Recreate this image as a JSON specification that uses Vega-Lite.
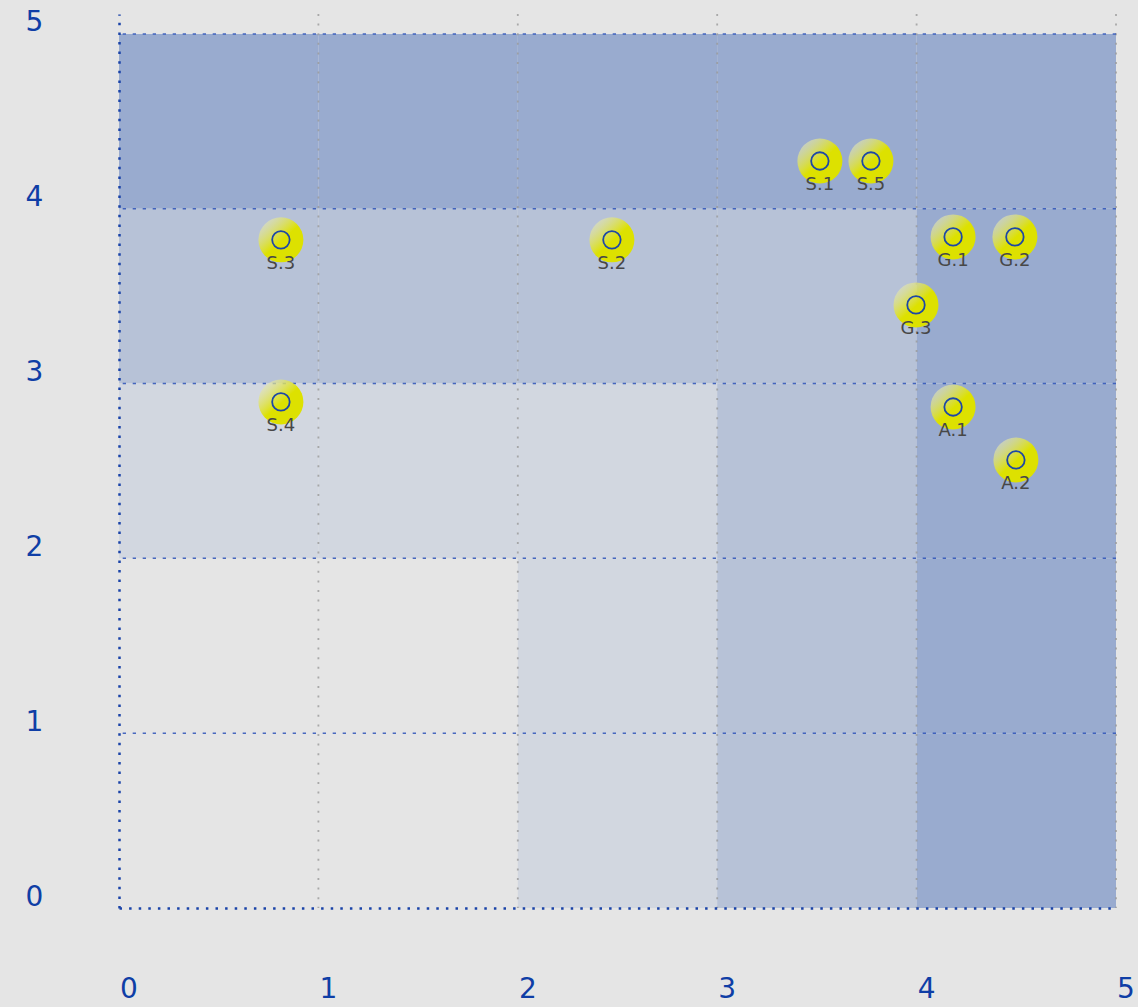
{
  "$schema": "https://vega.github.io/schema/vega-lite/v6.json",
  "width": 997,
  "height": 894,
  "autosize": {"type": "none"},
  "padding": {"left": 119, "top": 14, "right": 22, "bottom": 99},
  "background": "#e5e5e5",
  "config": {
    "view": {"stroke": null},
    "font": "DejaVu Sans"
  },
  "datasets": {
    "cells": [
      {"x0": 0, "x1": 1, "y0": 4, "y1": 5, "level": 4},
      {"x0": 1, "x1": 2, "y0": 4, "y1": 5, "level": 4},
      {"x0": 2, "x1": 3, "y0": 4, "y1": 5, "level": 4},
      {"x0": 3, "x1": 4, "y0": 4, "y1": 5, "level": 4},
      {"x0": 4, "x1": 5, "y0": 4, "y1": 5, "level": 4},
      {"x0": 0, "x1": 1, "y0": 3, "y1": 4, "level": 3},
      {"x0": 1, "x1": 2, "y0": 3, "y1": 4, "level": 3},
      {"x0": 2, "x1": 3, "y0": 3, "y1": 4, "level": 3},
      {"x0": 3, "x1": 4, "y0": 3, "y1": 4, "level": 3},
      {"x0": 4, "x1": 5, "y0": 3, "y1": 4, "level": 4},
      {"x0": 0, "x1": 1, "y0": 2, "y1": 3, "level": 2},
      {"x0": 1, "x1": 2, "y0": 2, "y1": 3, "level": 2},
      {"x0": 2, "x1": 3, "y0": 2, "y1": 3, "level": 2},
      {"x0": 3, "x1": 4, "y0": 2, "y1": 3, "level": 3},
      {"x0": 4, "x1": 5, "y0": 2, "y1": 3, "level": 4},
      {"x0": 2, "x1": 3, "y0": 1, "y1": 2, "level": 2},
      {"x0": 3, "x1": 4, "y0": 1, "y1": 2, "level": 3},
      {"x0": 4, "x1": 5, "y0": 1, "y1": 2, "level": 4},
      {"x0": 2, "x1": 3, "y0": 0, "y1": 1, "level": 2},
      {"x0": 3, "x1": 4, "y0": 0, "y1": 1, "level": 3},
      {"x0": 4, "x1": 5, "y0": 0, "y1": 1, "level": 4}
    ],
    "hlines": [{"v": 1}, {"v": 2}, {"v": 3}, {"v": 4}, {"v": 5}],
    "vlines": [{"v": 1}, {"v": 2}, {"v": 3}, {"v": 4}, {"v": 5}],
    "points": [
      {"x": 3.515, "y": 4.273, "label": "S.1"},
      {"x": 3.771, "y": 4.273, "label": "S.5"},
      {"x": 0.812, "y": 3.822, "label": "S.3"},
      {"x": 2.472, "y": 3.822, "label": "S.2"},
      {"x": 4.183, "y": 3.839, "label": "G.1"},
      {"x": 4.493, "y": 3.839, "label": "G.2"},
      {"x": 3.997, "y": 3.45, "label": "G.3"},
      {"x": 0.812, "y": 2.895, "label": "S.4"},
      {"x": 4.183, "y": 2.866, "label": "A.1"},
      {"x": 4.498, "y": 2.563, "label": "A.2"}
    ]
  },
  "layer": [
    {
      "data": {"name": "cells"},
      "mark": {"type": "rect", "strokeWidth": 0},
      "encoding": {
        "x": {
          "field": "x0", "type": "quantitative",
          "scale": {"domain": [0, 5], "nice": false, "zero": false},
          "axis": {
            "values": [0, 1, 2, 3, 4, 5], "format": "d",
            "ticks": false, "tickSize": 0, "grid": false,
            "domainColor": "#1a43a8", "domainWidth": 2.5, "domainDash": [2.5, 7.1],
            "labelFont": "DejaVu Sans", "labelFontSize": 28, "labelColor": "#0f3ea6",
            "labelBaseline": "top", "labelPadding": 67, "labelOffset": 9.5,
            "labelFlush": false, "labelOverlap": false,
            "title": null, "zindex": 1
          }
        },
        "x2": {"field": "x1"},
        "y": {
          "field": "y0", "type": "quantitative",
          "scale": {"domain": [0, 5.114], "nice": false, "zero": false},
          "axis": {
            "values": [0, 1, 2, 3, 4, 5], "format": "d",
            "ticks": false, "tickSize": 0, "grid": false,
            "domainColor": "#1a43a8", "domainWidth": 2.5, "domainDash": [2.5, 7.1],
            "labelFont": "DejaVu Sans", "labelFontSize": 28, "labelColor": "#0f3ea6",
            "labelAlign": "left", "labelBaseline": "middle", "labelPadding": 94, "labelOffset": -11,
            "labelFlush": false, "labelOverlap": false,
            "title": null, "zindex": 1
          }
        },
        "y2": {"field": "y1"},
        "color": {
          "field": "level", "type": "ordinal",
          "scale": {"domain": [2, 3, 4], "range": ["#d2d7e0", "#b7c2d7", "#99abcf"]},
          "legend": null
        }
      }
    },
    {
      "data": {"name": "vlines"},
      "mark": {"type": "rule", "color": "#9a9a9a", "strokeWidth": 1.8, "strokeDash": [2, 7.6], "opacity": 0.8},
      "encoding": {"x": {"field": "v", "type": "quantitative"}}
    },
    {
      "data": {"name": "hlines"},
      "mark": {"type": "rule", "color": "#2d52b8", "strokeWidth": 1.5, "strokeDash": [3.3, 6.7], "opacity": 0.85},
      "encoding": {"y": {"field": "v", "type": "quantitative"}}
    },
    {
      "data": {"name": "points"},
      "mark": {
        "type": "point", "shape": "circle", "filled": true, "size": 2025, "opacity": 1, "strokeWidth": 0,
        "color": {
          "gradient": "linear", "x1": 0.1, "y1": 0.05, "x2": 0.85, "y2": 0.9,
          "stops": [
            {"offset": 0, "color": "rgba(228,230,210,0.55)"},
            {"offset": 0.55, "color": "#dde100"},
            {"offset": 1, "color": "#dde100"}
          ]
        }
      },
      "encoding": {
        "x": {"field": "x", "type": "quantitative"},
        "y": {"field": "y", "type": "quantitative"}
      }
    },
    {
      "data": {"name": "points"},
      "mark": {"type": "point", "shape": "circle", "filled": false, "size": 306, "stroke": "#1d47a6", "strokeWidth": 1.8, "opacity": 1},
      "encoding": {
        "x": {"field": "x", "type": "quantitative"},
        "y": {"field": "y", "type": "quantitative"}
      }
    },
    {
      "data": {"name": "points"},
      "mark": {"type": "text", "dy": 24, "baseline": "middle", "align": "center", "fontSize": 18, "font": "DejaVu Sans", "color": "#474747"},
      "encoding": {
        "x": {"field": "x", "type": "quantitative"},
        "y": {"field": "y", "type": "quantitative"},
        "text": {"field": "label", "type": "nominal"}
      }
    }
  ]
}
